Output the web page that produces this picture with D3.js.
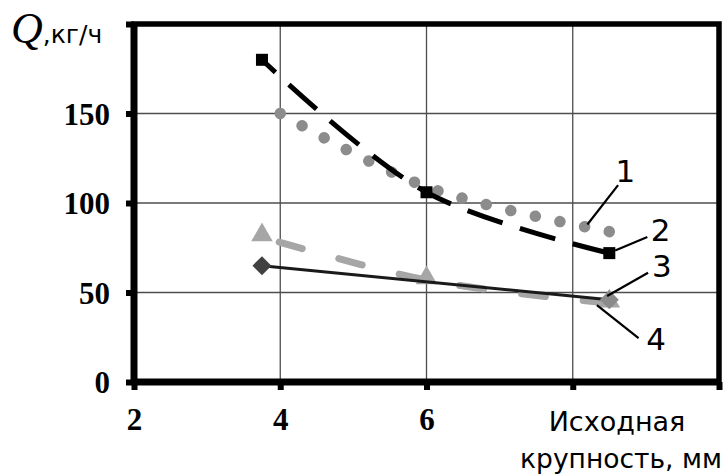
<!DOCTYPE html>
<html><head><meta charset="utf-8">
<script src="https://cdn.jsdelivr.net/npm/d3@7"></script>
<style>body{margin:0;background:#fff}svg{display:block}</style>
</head><body>
<svg id="c" width="725" height="475"></svg>
<script>
// ---- data ----
const xTicks = [2, 4, 6, 8, 10];
const xTickLabels = ["2", "4", "6", "", ""];
const yTicks = [0, 50, 100, 150, 200];
const yTickLabels = ["0", "50", "100", "150", ""];

const s1x = [4, 6, 8.5];      const s1y = [150, 109, 84];   // curve 1 (grey dots)
const s2x = [3.75, 6, 8.5];   const s2y = [180, 106, 72];   // curve 2 (black dashed, squares)
const s3x = [3.75, 8.5];      const s3y = [65, 46];         // curve 3 (solid, diamonds)
const s4x = [3.75, 6, 8.5];   const s4y = [81, 57, 44];     // curve 4 (grey dashed, triangles)

const labelText = ["1", "2", "3", "4"];
const labelX = [8.72, 9.2, 9.22, 9.14];
const labelY = [118, 85, 65, 24];
const leadFromX = [8.2, 8.58, 8.47, 8.33];
const leadFromY = [88, 73.5, 48, 43];
const leadToX = [8.62, 9.02, 9.03, 8.9];
const leadToY = [110, 81, 61, 24.5];

const yTitleQ = "Q";
const yTitleRest = ",кг/ч";
const xTitle1 = "Исходная";
const xTitle2 = "крупность, мм";

// ---- drawing ----
const svg = d3.select("#c");
const x = d3.scaleLinear().domain([2, 10]).range([134, 719]);
const y = d3.scaleLinear().domain([0, 200]).range([382, 24]);

// grid
svg.append("g").selectAll("line").data(xTicks.filter(d => d > 2 && d < 10)).join("line")
  .attr("x1", d => x(d)).attr("x2", d => x(d)).attr("y1", y(0)).attr("y2", y(200))
  .attr("stroke", "#4d4d4d").attr("stroke-width", 1.3);
svg.append("g").selectAll("line").data(yTicks.filter(d => d > 0 && d < 200)).join("line")
  .attr("y1", d => y(d)).attr("y2", d => y(d)).attr("x1", x(2)).attr("x2", x(10))
  .attr("stroke", "#4d4d4d").attr("stroke-width", 1.3);

// frame
svg.append("rect").attr("x", x(2)).attr("y", y(200)).attr("width", x(10) - x(2)).attr("height", y(0) - y(200))
  .attr("fill", "none").attr("stroke", "#000").attr("stroke-width", 5.5);
svg.append("line").attr("x1", x(2)).attr("x2", x(2)).attr("y1", y(200)).attr("y2", y(0)).attr("stroke", "#000").attr("stroke-width", 7);
svg.append("line").attr("x1", x(2)).attr("x2", x(10)).attr("y1", y(0)).attr("y2", y(0)).attr("stroke", "#000").attr("stroke-width", 7);

// axes
const yAxis = d3.axisLeft(y).tickValues(yTicks).tickFormat((d, i) => yTickLabels[i]).tickSize(8).tickPadding(16);
const ga = svg.append("g").attr("transform", `translate(${x(2)},0)`).call(yAxis);
ga.select(".domain").remove();
ga.selectAll(".tick line").attr("stroke", "#000").attr("stroke-width", 6);
ga.selectAll(".tick text").attr("font-family", "Liberation Serif").attr("font-weight", "bold")
  .attr("font-size", 31).attr("fill", "#000").attr("dy", "0.34em");

const xAxis = d3.axisBottom(x).tickValues(xTicks).tickFormat((d, i) => xTickLabels[i]).tickSize(8).tickPadding(18);
const gx = svg.append("g").attr("transform", `translate(0,${y(0)})`).call(xAxis);
gx.select(".domain").remove();
gx.selectAll(".tick line").attr("stroke", "#000").attr("stroke-width", 6);
gx.selectAll(".tick text").attr("font-family", "Liberation Serif").attr("font-weight", "bold")
  .attr("font-size", 31).attr("fill", "#000");

// titles
const yt = svg.append("text").attr("x", 11).attr("y", 43);
yt.append("tspan").attr("font-family", "Liberation Serif").attr("font-style", "italic").attr("font-size", 44).text(yTitleQ);
yt.append("tspan").attr("font-family", "DejaVu Sans").attr("font-size", 25).text(yTitleRest);
svg.append("text").attr("x", 617).attr("y", 431).attr("text-anchor", "middle")
  .attr("font-family", "DejaVu Sans").attr("font-size", 27).text(xTitle1);
svg.append("text").attr("x", 621).attr("y", 468).attr("text-anchor", "middle")
  .attr("font-family", "DejaVu Sans").attr("font-size", 26.5).text(xTitle2);

// series
const zip = (xs, ys) => xs.map((v, i) => [v, ys[i]]);
const line = d3.line().x(d => x(d[0])).y(d => y(d[1])).curve(d3.curveCatmullRom.alpha(0.5));
const lineStraight = d3.line().x(d => x(d[0])).y(d => y(d[1]));

// series 4
svg.append("path").attr("d", line(zip(s4x, s4y))).attr("fill", "none")
  .attr("stroke", "#a6a6a6").attr("stroke-width", 7).attr("stroke-linecap", "round")
  .attr("stroke-dasharray", "24 38").attr("stroke-dashoffset", -18);
svg.append("g").selectAll("path").data(zip(s4x, s4y)).join("path")
  .attr("d", d3.symbol(d3.symbolTriangle, 200)())
  .attr("transform", d => `translate(${x(d[0])},${y(d[1]) - 2})`).attr("fill", "#a6a6a6");

// series 3
svg.append("path").attr("d", lineStraight(zip(s3x, s3y))).attr("fill", "none")
  .attr("stroke", "#1a1a1a").attr("stroke-width", 3);
svg.append("g").selectAll("path").data(zip(s3x, s3y)).join("path")
  .attr("d", d3.symbol(d3.symbolDiamond2, 230)())
  .attr("transform", d => `translate(${x(d[0])},${y(d[1])})`)
  .attr("fill", (d, i) => i === 0 ? "#404040" : "#8a8a8a");

// series 1 (round dots spaced evenly so both ends carry a dot)
const p1 = svg.append("path").attr("d", line(zip(s1x, s1y))).attr("fill", "none")
  .attr("stroke", "#8c8c8c").attr("stroke-width", 11.5).attr("stroke-linecap", "round");
const L1 = p1.node().getTotalLength();
const n1 = Math.round(L1 / 24.5);
p1.attr("stroke-dasharray", `0.01 ${(L1 - 0.3) / n1 - 0.01}`);

// series 2 (dash pattern aligned so a dash ends at the last point)
const p2 = svg.append("path").attr("d", line(zip(s2x, s2y))).attr("fill", "none")
  .attr("stroke", "#000").attr("stroke-width", 5);
const L2 = p2.node().getTotalLength();
p2.attr("stroke-dasharray", "37 18").attr("stroke-dashoffset", 37 - (L2 % 55) + 1);
svg.append("g").selectAll("rect").data(zip(s2x, s2y)).join("rect")
  .attr("x", d => x(d[0]) - 6).attr("y", d => y(d[1]) - 6).attr("width", 12).attr("height", 12).attr("fill", "#000");

// labels and leaders
svg.append("g").selectAll("line").data(labelText).join("line")
  .attr("x1", (d, i) => x(leadFromX[i])).attr("y1", (d, i) => y(leadFromY[i]))
  .attr("x2", (d, i) => x(leadToX[i])).attr("y2", (d, i) => y(leadToY[i]))
  .attr("stroke", "#000").attr("stroke-width", 2.2);
svg.append("g").selectAll("text").data(labelText).join("text")
  .attr("x", (d, i) => x(labelX[i])).attr("y", (d, i) => y(labelY[i])).attr("dy", "0.36em")
  .attr("text-anchor", "middle").attr("font-family", "DejaVu Sans").attr("font-size", 31).text(d => d);
</script>
</body></html>
